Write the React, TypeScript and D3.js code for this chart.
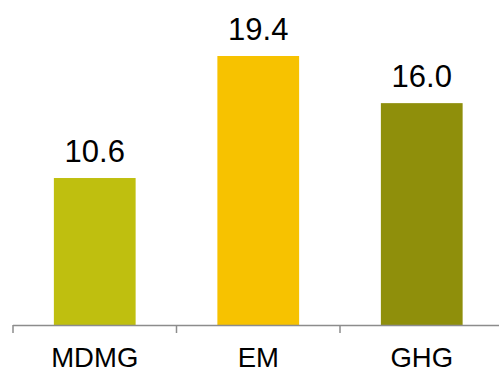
import React from "react";
import * as d3 from "d3";

const categories = ["MDMG", "EM", "GHG"];
const values = [10.6, 19.4, 16.0];
const colors = ["#BFBF0F", "#F7C200", "#8F8F0B"];

const W = 499;
const H = 370;

export default function App() {
  const x = d3
    .scaleBand<string>()
    .domain(categories)
    .range([13, 503.5])
    .paddingInner(0.5)
    .paddingOuter(0.25);
  const y = d3.scaleLinear().domain([0, 19.4]).range([325, 56]);
  const step = x.step();
  const start = 13;
  const boundaries = d3.range(categories.length + 1).map((i) => start + i * step);
  const font = "'Liberation Sans', Arial, sans-serif";

  return (
    <svg
      width={W}
      height={H}
      style={{ position: "absolute", left: 0, top: 0, background: "#fff" }}
    >
      {categories.map((c, i) => (
        <rect
          key={c}
          x={x(c)}
          y={y(values[i])}
          width={x.bandwidth()}
          height={y(0) - y(values[i])}
          fill={colors[i]}
        />
      ))}
      <line x1={start} x2={W + 10} y1={y(0) + 0.5} y2={y(0) + 0.5} stroke="#8C8C8C" strokeWidth={1.5} />
      {boundaries.map((b, i) => (
        <line key={i} x1={b} x2={b} y1={y(0)} y2={y(0) + 8} stroke="#8C8C8C" strokeWidth={1.5} />
      ))}
      {categories.map((c, i) => (
        <text
          key={"v" + c}
          x={(x(c) as number) + x.bandwidth() / 2}
          y={y(values[i]) - 16}
          textAnchor="middle"
          fontFamily={font}
          fontSize={31}
          fill="#000"
        >
          {values[i].toFixed(1)}
        </text>
      ))}
      {categories.map((c) => (
        <text
          key={"c" + c}
          x={(x(c) as number) + x.bandwidth() / 2}
          y={367}
          textAnchor="middle"
          fontFamily={font}
          fontSize={27.5}
          fill="#000"
        >
          {c}
        </text>
      ))}
    </svg>
  );
}
